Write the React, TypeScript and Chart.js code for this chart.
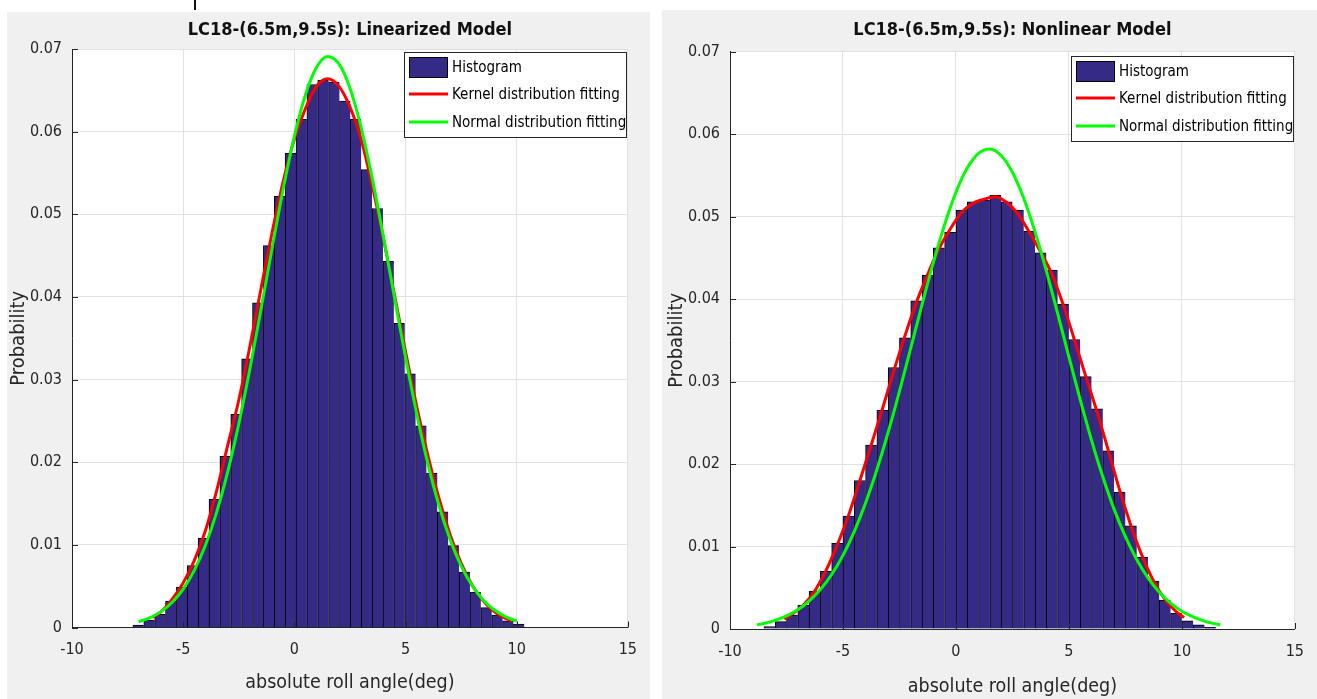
import React, { useEffect, useRef } from 'react';
import { Chart, registerables } from 'chart.js';

Chart.register(...registerables);

// ---------------- data ----------------
const xTickValues = [-10, -5, 0, 5, 10, 15];
const yTickValues = [0, 0.01, 0.02, 0.03, 0.04, 0.05, 0.06, 0.07];

const legendLabels = ['Histogram', 'Kernel distribution fitting', 'Normal distribution fitting'];

// Linearized model
const linBinCenters = [
  -7.016, -6.527, -6.038, -5.549, -5.06, -4.571, -4.082, -3.593, -3.104, -2.615,
  -2.126, -1.637, -1.148, -0.659, -0.17, 0.319, 0.808, 1.297, 1.786, 2.275,
  2.764, 3.253, 3.742, 4.231, 4.72, 5.209, 5.698, 6.187, 6.676, 7.165,
  7.654, 8.143, 8.632, 9.121, 9.61, 10.099,
];
const linBinProb = [
  0.0003, 0.0009, 0.0016, 0.0032, 0.0049, 0.0075, 0.0108, 0.0155, 0.0207, 0.0258,
  0.0325, 0.0393, 0.0462, 0.0522, 0.0574, 0.0615, 0.0657, 0.0662, 0.066, 0.0637,
  0.0615, 0.0554, 0.0507, 0.0443, 0.0368, 0.0307, 0.0244, 0.0187, 0.014, 0.0099,
  0.0067, 0.0043, 0.0024, 0.0015, 0.0008, 0.0004,
];
const linKernelX = [
  -6.4, -6, -5.5, -5, -4.5, -4, -3.5, -3, -2.5, -2, -1.5, -1, -0.5, 0, 0.5, 1, 1.5,
  2, 2.5, 3, 3.5, 4, 4.5, 5, 5.5, 6, 6.5, 7, 7.5, 8, 8.5, 9, 9.5, 9.8,
];
const linKernelY = [
  0.0012, 0.0019, 0.0034, 0.0054, 0.0081, 0.0117, 0.0165, 0.022, 0.0275, 0.034,
  0.041, 0.0478, 0.054, 0.0591, 0.0628, 0.0655, 0.0664, 0.0655, 0.063, 0.0591,
  0.0535, 0.0472, 0.0403, 0.0334, 0.0268, 0.0209, 0.0157, 0.0113, 0.0078, 0.0051,
  0.0032, 0.0019, 0.0011, 0.0008,
];
const linNormalX = [
  -7, -6.5, -6, -5.5, -5, -4.5, -4, -3.5, -3, -2.5, -2, -1.5, -1, -0.5, 0, 0.5, 1,
  1.5, 2, 2.5, 3, 3.5, 4, 4.5, 5, 5.5, 6, 6.5, 7, 7.5, 8, 8.5, 9, 9.5, 10,
];
const linNormalY = [
  0.0007, 0.00117, 0.00192, 0.00303, 0.00465, 0.00692, 0.00996, 0.0139, 0.0188,
  0.02463, 0.03128, 0.0385, 0.0459, 0.05306, 0.05941, 0.06447, 0.0678, 0.0691,
  0.06822, 0.06529, 0.06054, 0.0544, 0.04738, 0.03998, 0.03269, 0.0259, 0.01989,
  0.0148, 0.01067, 0.00746, 0.00505, 0.00331, 0.00211, 0.0013, 0.00077,
];

// Nonlinear model
const nonBinCenters = [
  -8.25, -7.75, -7.25, -6.75, -6.25, -5.75, -5.25, -4.75, -4.25, -3.75,
  -3.25, -2.75, -2.25, -1.75, -1.25, -0.75, -0.25, 0.25, 0.75, 1.25,
  1.75, 2.25, 2.75, 3.25, 3.75, 4.25, 4.75, 5.25, 5.75, 6.25,
  6.75, 7.25, 7.75, 8.25, 8.75, 9.25, 9.75, 10.25, 10.75, 11.25,
];
const nonBinProb = [
  0.0003, 0.0009, 0.0017, 0.0029, 0.0046, 0.007, 0.0104, 0.0137, 0.018, 0.0223,
  0.0265, 0.0317, 0.0353, 0.0398, 0.0429, 0.0462, 0.0481, 0.0508, 0.0518, 0.052,
  0.0526, 0.0518, 0.0508, 0.0482, 0.0456, 0.0435, 0.0394, 0.0351, 0.0306, 0.0267,
  0.0216, 0.0166, 0.0125, 0.0087, 0.0058, 0.0035, 0.0019, 0.001, 0.0005, 0.0002,
];
const nonKernelX = [
  -7.6, -7.25, -6.75, -6.25, -5.75, -5.25, -4.75, -4.25, -3.75, -3.25, -2.75, -2.25,
  -1.75, -1.25, -0.75, -0.25, 0.25, 0.75, 1.25, 1.75, 2.25, 2.75, 3.25, 3.75, 4.25,
  4.75, 5.25, 5.75, 6.25, 6.75, 7.25, 7.75, 8.25, 8.75, 9.25, 9.75, 10.1,
];
const nonKernelY = [
  0.0012, 0.0018, 0.0029, 0.0046, 0.0071, 0.0102, 0.0138, 0.018, 0.0223, 0.0267,
  0.0313, 0.0356, 0.0396, 0.043, 0.0461, 0.0485, 0.0505, 0.0516, 0.0521, 0.0524,
  0.0517, 0.0503, 0.0481, 0.0457, 0.043, 0.0393, 0.035, 0.0306, 0.0263, 0.0216,
  0.0168, 0.0125, 0.0088, 0.0058, 0.0036, 0.0021, 0.0014,
];
const nonNormalX = [
  -8.8, -8.5, -8, -7.5, -7, -6.5, -6, -5.5, -5, -4.5, -4, -3.5, -3, -2.5, -2, -1.5,
  -1, -0.5, 0, 0.5, 1, 1.5, 2, 2.5, 3, 3.5, 4, 4.5, 5, 5.5, 6, 6.5, 7, 7.5, 8, 8.5,
  9, 9.5, 10, 10.5, 11, 11.5, 11.7,
];
const nonNormalY = [
  0.00051, 0.00067, 0.00104, 0.00158, 0.00233, 0.00338, 0.00478, 0.00661, 0.00893,
  0.01181, 0.01527, 0.0193, 0.02385, 0.02882, 0.03405, 0.03933, 0.04441, 0.04904,
  0.05294, 0.05588, 0.05767, 0.0582, 0.05741, 0.05538, 0.05223, 0.04816, 0.04342,
  0.03828, 0.03299, 0.0278, 0.0229, 0.01845, 0.01453, 0.01119, 0.00843, 0.0062,
  0.00446, 0.00314, 0.00216, 0.00146, 0.00096, 0.00062, 0.00051,
];

// ---------------- styling ----------------
const FONT =
  "'Liberation Sans Narrow', 'Arial Narrow', 'DejaVu Sans Condensed', 'Liberation Sans', Arial, sans-serif";
const BAR_COLOR = '#352b87';
const AXIS_COLOR = '#262626';
const GRID_COLOR = '#e2e2e2';

type PanelProps = {
  left: number;
  top: number;
  width: number;
  height: number;
  title: string;
  centers: number[];
  probs: number[];
  kx: number[];
  ky: number[];
  nx: number[];
  ny: number[];
  yAxisWidth: number;
  xAxisHeight: number;
  padRight: number;
  titlePadTop: number;
  titlePadBottom: number;
  xTitlePad: number;
  yTitlePad: number;
  legendInset: number;
};

function HistPanel(p: PanelProps) {
  const ref = useRef<HTMLCanvasElement>(null);

  useEffect(() => {
    const canvas = ref.current;
    if (!canvas) return;

    const bgPlugin = {
      id: 'plotBg',
      beforeDraw(chart: any) {
        const { ctx, chartArea: a } = chart;
        ctx.save();
        ctx.fillStyle = '#ffffff';
        ctx.fillRect(a.left, a.top, a.right - a.left, a.bottom - a.top);
        ctx.restore();
      },
    };

    const ticksPlugin = {
      id: 'inTicks',
      afterDatasetsDraw(chart: any) {
        const { ctx, chartArea: a, scales } = chart;
        ctx.save();
        ctx.strokeStyle = AXIS_COLOR;
        ctx.lineWidth = 1;
        ctx.beginPath();
        for (const v of xTickValues) {
          const px = Math.round(scales.x.getPixelForValue(v)) + 0.5;
          ctx.moveTo(px, a.bottom);
          ctx.lineTo(px, a.bottom - 6);
        }
        for (const v of yTickValues) {
          const py = Math.round(scales.y.getPixelForValue(v)) + 0.5;
          ctx.moveTo(a.left, py);
          ctx.lineTo(a.left + 6, py);
        }
        ctx.stroke();
        ctx.restore();
      },
    };

    const legendPlugin = {
      id: 'boxLegend',
      afterDraw(chart: any) {
        const { ctx, chartArea: a } = chart;
        const w = 223;
        const h = 86;
        const bx = Math.round(a.right - 1 - w);
        const by = Math.round(a.top + p.legendInset);
        ctx.save();
        ctx.fillStyle = '#ffffff';
        ctx.fillRect(bx, by, w, h);
        ctx.strokeStyle = AXIS_COLOR;
        ctx.lineWidth = 1;
        ctx.strokeRect(bx + 0.5, by + 0.5, w - 1, h - 1);
        const rows = [by + 15, by + 42, by + 70];
        // histogram swatch
        ctx.fillStyle = BAR_COLOR;
        ctx.fillRect(bx + 5, rows[0] - 10, 39, 21);
        ctx.strokeStyle = '#000';
        ctx.strokeRect(bx + 5.5, rows[0] - 9.5, 38, 20);
        // line swatches
        ctx.lineWidth = 3;
        ctx.strokeStyle = '#ff0000';
        ctx.beginPath();
        ctx.moveTo(bx + 5, rows[1]);
        ctx.lineTo(bx + 44, rows[1]);
        ctx.stroke();
        ctx.strokeStyle = '#00ff00';
        ctx.beginPath();
        ctx.moveTo(bx + 5, rows[2]);
        ctx.lineTo(bx + 44, rows[2]);
        ctx.stroke();
        ctx.fillStyle = '#000';
        ctx.font = `15px ${FONT}`;
        ctx.textBaseline = 'middle';
        ctx.textAlign = 'left';
        legendLabels.forEach((lab, i) => ctx.fillText(lab, bx + 48, rows[i] + 1));
        ctx.restore();
      },
    };

    const chart = new Chart(canvas, {
      type: 'bar',
      data: {
        datasets: [
          {
            type: 'line',
            label: legendLabels[2],
            data: p.nx.map((x, i) => ({ x, y: p.ny[i] })),
            borderColor: '#00ff00',
            backgroundColor: '#00ff00',
            borderWidth: 3,
            pointRadius: 0,
            cubicInterpolationMode: 'monotone',
            order: 1,
          } as any,
          {
            type: 'line',
            label: legendLabels[1],
            data: p.kx.map((x, i) => ({ x, y: p.ky[i] })),
            borderColor: '#ff0000',
            backgroundColor: '#ff0000',
            borderWidth: 3,
            pointRadius: 0,
            cubicInterpolationMode: 'monotone',
            order: 2,
          } as any,
          {
            type: 'bar',
            label: legendLabels[0],
            data: p.centers.map((x, i) => ({ x, y: p.probs[i] })),
            backgroundColor: BAR_COLOR,
            borderColor: '#000000',
            borderWidth: { top: 1, left: 1, right: 0, bottom: 0 },
            borderSkipped: false,
            barPercentage: 1,
            categoryPercentage: 1,
            grouped: false,
            order: 3,
          } as any,
        ],
      },
      options: {
        animation: false,
        responsive: false,
        maintainAspectRatio: false,
        layout: { padding: { left: 0, right: p.padRight, top: 0, bottom: 0 } },
        plugins: {
          legend: { display: false },
          tooltip: { enabled: false },
          title: {
            display: true,
            text: p.title,
            fullSize: false,
            color: '#111111',
            font: { family: FONT, size: 18, weight: 'bold', lineHeight: 1.2 },
            padding: { top: p.titlePadTop, bottom: p.titlePadBottom },
          },
        },
        scales: {
          x: {
            type: 'linear',
            min: -10,
            max: 15,
            offset: false,
            grid: { offset: false, color: GRID_COLOR, drawTicks: false },
            border: { color: AXIS_COLOR, width: 1 },
            ticks: {
              stepSize: 5,
              padding: 13,
              color: AXIS_COLOR,
              font: { family: FONT, size: 16 },
            },
            title: {
              display: true,
              text: 'absolute roll angle(deg)',
              color: AXIS_COLOR,
              font: { family: FONT, size: 19.5, lineHeight: 1.2 },
              padding: { top: 0, bottom: p.xTitlePad },
            },
            afterFit: (s: any) => {
              s.height = p.xAxisHeight;
            },
          },
          y: {
            type: 'linear',
            min: 0,
            max: 0.07,
            grid: { color: GRID_COLOR, drawTicks: false },
            border: { color: AXIS_COLOR, width: 1 },
            ticks: {
              stepSize: 0.01,
              padding: 10,
              color: AXIS_COLOR,
              font: { family: FONT, size: 16 },
            },
            title: {
              display: true,
              text: 'Probability',
              color: AXIS_COLOR,
              font: { family: FONT, size: 20, lineHeight: 1.2 },
              padding: { top: p.yTitlePad, bottom: 0 },
            },
            afterFit: (s: any) => {
              s.width = p.yAxisWidth;
            },
          },
        },
      } as any,
      plugins: [bgPlugin, ticksPlugin, legendPlugin],
    });

    return () => chart.destroy();
  }, []);

  return (
    <canvas
      ref={ref}
      width={p.width}
      height={p.height}
      style={{
        position: 'absolute',
        left: p.left,
        top: p.top,
        width: p.width,
        height: p.height,
        background: '#f0f0f0',
        display: 'block',
      }}
    />
  );
}

export default function App() {
  return (
    <div
      style={{
        position: 'fixed',
        left: 0,
        top: 0,
        width: 1317,
        height: 699,
        background: '#ffffff',
        overflow: 'hidden',
      }}
    >
      <div style={{ position: 'absolute', left: 194, top: 0, width: 2, height: 10, background: '#111' }} />
      <HistPanel
        left={7}
        top={12}
        width={643}
        height={687}
        title="LC18-(6.5m,9.5s): Linearized Model"
        centers={linBinCenters}
        probs={linBinProb}
        kx={linKernelX}
        ky={linKernelY}
        nx={linNormalX}
        ny={linNormalY}
        yAxisWidth={65}
        xAxisHeight={71.5}
        padRight={16}
        titlePadTop={8}
        titlePadBottom={7.4}
        xTitlePad={4}
        yTitlePad={0}
        legendInset={3}
      />
      <HistPanel
        left={662}
        top={10}
        width={655}
        height={689}
        title="LC18-(6.5m,9.5s): Nonlinear Model"
        centers={nonBinCenters}
        probs={nonBinProb}
        kx={nonKernelX}
        ky={nonKernelY}
        nx={nonNormalX}
        ny={nonNormalY}
        yAxisWidth={68}
        xAxisHeight={70}
        padRight={18}
        titlePadTop={10}
        titlePadBottom={10}
        xTitlePad={0}
        yTitlePad={3}
        legendInset={4}
      />
    </div>
  );
}
